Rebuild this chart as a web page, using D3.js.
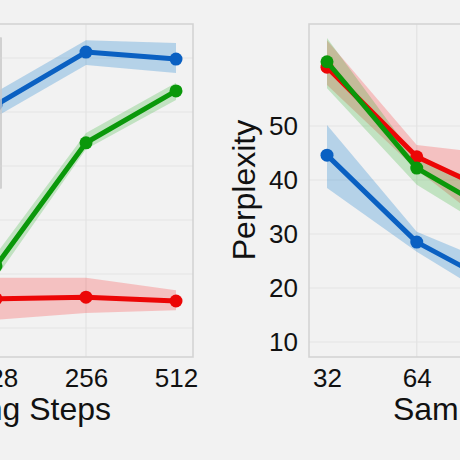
<!DOCTYPE html>
<html>
<head>
<meta charset="utf-8">
<script src="https://cdn.jsdelivr.net/npm/d3@7"></script>
<style>
  body { margin: 0; background: #f2f2f2; }
  svg { display: block; font-family: "Liberation Sans", Arial, sans-serif; }
</style>
</head>
<body>
<svg id="chart"></svg>
<script>
// x ticks (log2 spaced), only those that fall in view
const leftXTicks = [128, 256, 512];
const rightXTicks = [32, 64];
const gridSteps = [64, 256];

// left panel (y axis is outside the crop)
const leftSteps = [128, 256, 512];
const leftYTicks = [0.2, 0.3, 0.4, 0.5, 0.6, 0.7];
const leftBlue = [0.613, 0.711, 0.698];
const leftBlueLo = [0.591, 0.687, 0.672];
const leftBlueHi = [0.637, 0.733, 0.728];
const leftGreen = [0.315, 0.543, 0.639];
const leftGreenLo = [0.293, 0.531, 0.622];
const leftGreenHi = [0.337, 0.561, 0.654];
const leftRed = [0.254, 0.257, 0.250];
const leftRedLo = [0.215, 0.228, 0.233];
const leftRedHi = [0.293, 0.293, 0.270];

// right panel: perplexity
const rightSteps = [32, 64, 128];
const rightYTicks = [10, 20, 30, 40, 50];
const rightBlue = [44.6, 28.5, 19.6];
const rightBlueLo = [38.5, 26.7, 16.5];
const rightBlueHi = [50.2, 30.4, 23.5];
const rightRed = [60.9, 44.3, 36.5];
const rightRedLo = [57.6, 41.9, 29.0];
const rightRedHi = [65.9, 46.5, 44.5];
const rightGreen = [61.9, 42.2, 32.6];
const rightGreenLo = [57.0, 39.1, 29.0];
const rightGreenHi = [66.3, 43.7, 38.5];

const colors = { blue: "#0a60c2", green: "#0a980a", red: "#ec0606" };
const bandColors = {
    blue: "rgba(0,114,205,0.25)",
    green: "rgba(0,165,0,0.2)",
    red: "rgba(255,0,0,0.2)"
};

const W = 460, H = 460;
const plotTop = 24, plotBottom = 357;

const svg = d3.select("#chart").attr("width", W).attr("height", H);
svg.append("rect").attr("width", W).attr("height", H).attr("fill", "#f2f2f2");

function drawPanel(p) {
    const g = svg.append("g");
    const x = d3.scaleLog().base(2)
        .domain([32, 512])
        .range([p.x0 + 18, p.x1 - 17]);
    const y = d3.scaleLinear()
        .domain(p.yDomain)
        .range(p.yRange);

    // gridlines
    g.selectAll("line.hgrid")
        .data(p.gridY)
        .join("line")
        .attr("x1", p.x0).attr("x2", p.x1)
        .attr("y1", d => y(d)).attr("y2", d => y(d))
        .attr("stroke", "#e3e3e3").attr("stroke-width", 1.2);
    g.selectAll("line.vgrid")
        .data(gridSteps)
        .join("line")
        .attr("x1", d => x(d)).attr("x2", d => x(d))
        .attr("y1", plotTop).attr("y2", plotBottom)
        .attr("stroke", "#e3e3e3").attr("stroke-width", 1.2);

    // frame
    g.append("rect")
        .attr("x", p.x0).attr("y", plotTop)
        .attr("width", p.x1 - p.x0).attr("height", plotBottom - plotTop)
        .attr("fill", "none").attr("stroke", "#d2d2d2").attr("stroke-width", 1.5);

    const area = d3.area()
        .x(d => x(d.s))
        .y0(d => y(d.lo))
        .y1(d => y(d.hi));
    const line = d3.line()
        .x(d => x(d.s))
        .y(d => y(d.v));

    p.series.forEach(s => {
        const pts = p.steps.map((st, i) => ({ s: st, v: s.v[i], lo: s.lo[i], hi: s.hi[i] }));
        g.append("path").datum(pts)
            .attr("d", area)
            .attr("fill", bandColors[s.c]);
    });
    p.series.forEach(s => {
        const pts = p.steps.map((st, i) => ({ s: st, v: s.v[i] }));
        g.append("path").datum(pts)
            .attr("d", line)
            .attr("fill", "none")
            .attr("stroke", colors[s.c])
            .attr("stroke-width", 5)
            .attr("stroke-linejoin", "round");
        g.selectAll(null).data(pts).join("circle")
            .attr("cx", d => x(d.s)).attr("cy", d => y(d.v))
            .attr("r", 6.5)
            .attr("fill", colors[s.c]);
    });

    // x axis
    const xAxis = g.append("g")
        .attr("transform", `translate(0,${plotBottom})`)
        .call(d3.axisBottom(x).tickValues(p.xTicks).tickFormat(d3.format("d"))
            .tickSize(0).tickPadding(11.5));
    xAxis.select(".domain").remove();
    xAxis.selectAll("text").attr("font-size", 26).attr("fill", "#111")
        .attr("font-family", "Liberation Sans, Arial, sans-serif");

    if (p.yTicks) {
        const yAxis = g.append("g")
            .attr("transform", `translate(${p.x0},0)`)
            .call(d3.axisLeft(y).tickValues(p.yTicks).tickSize(0).tickPadding(11));
        yAxis.select(".domain").remove();
        yAxis.selectAll("text").attr("font-size", 26).attr("fill", "#111")
            .attr("font-family", "Liberation Sans, Arial, sans-serif");
    }

    g.append("text")
        .attr("x", p.labelX).attr("y", 420)
        .attr("text-anchor", "middle")
        .attr("font-size", 32).attr("fill", "#111")
        .text("Sampling Steps");

    return g;
}

// legend box of the left panel, only its right edge is in view
svg.append("rect")
    .attr("x", -150).attr("y", 38)
    .attr("width", 151).attr("height", 150)
    .attr("fill", "#f2f2f2").attr("stroke", "#cfcfcf").attr("stroke-width", 1.5);

drawPanel({
    x0: -202, x1: 193,
    yDomain: [0.2, 0.7], yRange: [328, 58],
    gridY: leftYTicks,
    xTicks: leftXTicks,
    steps: leftSteps,
    labelX: -1,
    series: [
        { c: "blue", v: leftBlue, lo: leftBlueLo, hi: leftBlueHi },
        { c: "green", v: leftGreen, lo: leftGreenLo, hi: leftGreenHi },
        { c: "red", v: leftRed, lo: leftRedLo, hi: leftRedHi }
    ]
});

// re-draw legend edge on top of the left frame
svg.append("line")
    .attr("x1", 1).attr("x2", 1).attr("y1", 38).attr("y2", 188)
    .attr("stroke", "#cfcfcf").attr("stroke-width", 1.5);

drawPanel({
    x0: 309, x1: 703,
    yDomain: [10, 50], yRange: [342, 126],
    gridY: rightYTicks,
    yTicks: rightYTicks,
    xTicks: rightXTicks,
    steps: rightSteps,
    labelX: 505,
    series: [
        { c: "blue", v: rightBlue, lo: rightBlueLo, hi: rightBlueHi },
        { c: "red", v: rightRed, lo: rightRedLo, hi: rightRedHi },
        { c: "green", v: rightGreen, lo: rightGreenLo, hi: rightGreenHi }
    ]
});

svg.append("text")
    .attr("transform", "translate(255,190) rotate(-90)")
    .attr("text-anchor", "middle")
    .attr("font-size", 32).attr("fill", "#111")
    .text("Perplexity");
</script>
</body>
</html>
